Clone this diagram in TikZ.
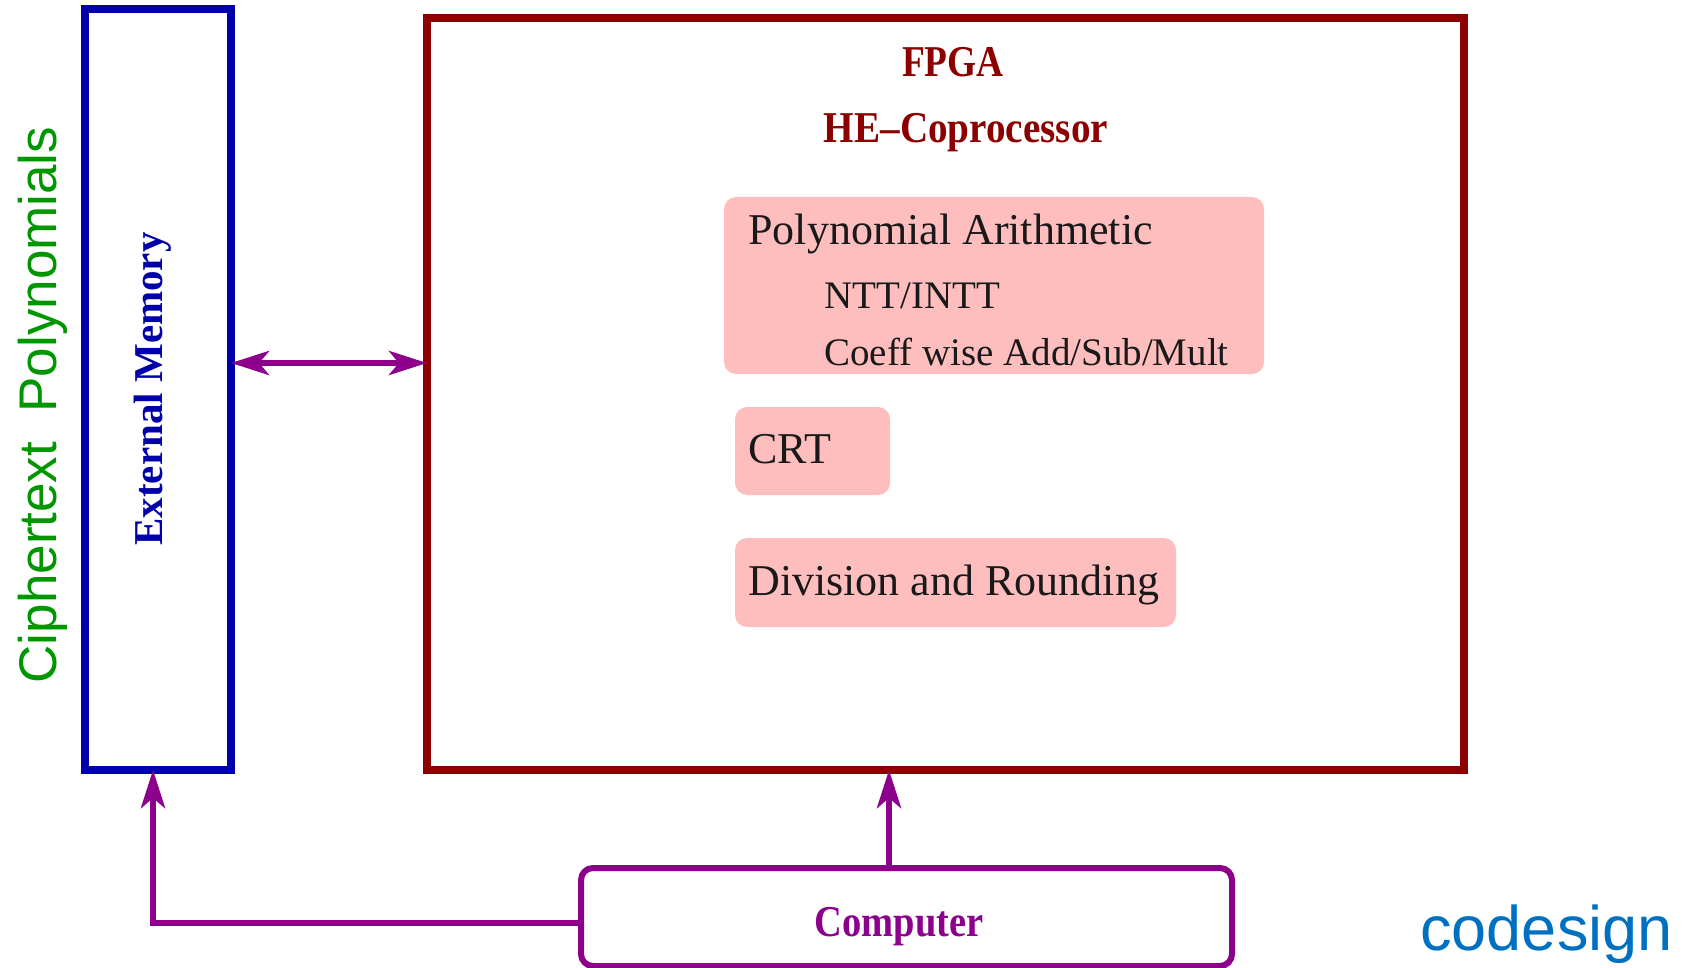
\documentclass[tikz,border=0pt]{standalone}
\usepackage{fontspec}
\usepackage{graphicx}
\setmainfont{Liberation Serif}
\newfontfamily\sansfam{Liberation Sans}
\usetikzlibrary{arrows.meta}

\definecolor{memblue}{RGB}{0,0,170}
\definecolor{fpgared}{RGB}{140,0,0}
\definecolor{linkpurple}{RGB}{140,0,140}
\definecolor{unitpink}{RGB}{255,190,190}
\definecolor{notegreen}{RGB}{0,150,0}
\definecolor{noteblue}{RGB}{0,112,192}

\begin{document}
\begin{tikzpicture}[x=0.5pt,y=-0.5pt,
  membox/.style={draw=memblue, line width=3.8pt, inner sep=0pt, outer sep=0pt,
    minimum width=73pt, minimum height=380.5pt},
  fpgabox/.style={draw=fpgared, line width=3.8pt, inner sep=0pt, outer sep=0pt,
    minimum width=518.5pt, minimum height=376pt},
  unitbox/.style={fill=unitpink, rounded corners=6pt, inner sep=0pt, outer sep=0pt},
  compbox/.style={draw=linkpurple, line width=3pt, rounded corners=6pt,
    inner sep=0pt, outer sep=0pt, minimum width=325.5pt, minimum height=49pt},
  headtext/.style={inner sep=0pt, text=fpgared, font=\fontsize{22pt}{26pt}\selectfont\bfseries},
  unittext/.style={inner sep=0pt, text=black!90, font=\fontsize{22pt}{26pt}\selectfont},
  subtext/.style={inner sep=0pt, text=black!90, font=\fontsize{19.5pt}{23pt}\selectfont},
  memtext/.style={inner sep=0pt, text=memblue, font=\fontsize{20.5pt}{24pt}\selectfont\bfseries},
  comptext/.style={inner sep=0pt, text=linkpurple, font=\fontsize{22pt}{26pt}\selectfont\bfseries},
  greennote/.style={inner sep=0pt, text=notegreen, font=\sansfam\fontsize{26.5pt}{30pt}\selectfont},
  bluenote/.style={inner sep=0pt, text=noteblue, font=\sansfam\fontsize{31.5pt}{36pt}\selectfont},
  link/.style={draw=linkpurple, line width=3pt}
]
\useasboundingbox (0,0) rectangle (1687,968);

% main blocks
\node[membox] (mem) at (158,389.5) {};
\node[fpgabox] (fpga) at (945.5,394) {};
\node[compbox] (comp) at (906.5,917) {};

% units inside the coprocessor
\node[unitbox, minimum width=270pt, minimum height=88.5pt] (poly) at (994,285.5) {};
\node[unitbox, minimum width=77.5pt, minimum height=44pt] (crt) at (812.5,451) {};
\node[unitbox, minimum width=220.5pt, minimum height=44.5pt] (divr) at (955.5,582.5) {};

% labels
\node[headtext, anchor=base] (fpgalbl) at (953,77) {\scalebox{0.85}[1]{FPGA}};
\node[headtext, anchor=base] (helbl) at (966,143) {\scalebox{0.89}[1]{HE–Coprocessor}};
\node[unittext, anchor=base west] (polylbl) at (748,245) {Polynomial Arithmetic};
\node[subtext, anchor=base west] (nttlbl) at (824,309) {NTT/INTT};
\node[subtext, anchor=base west] (coefflbl) at (824,365) {Coeff wise Add/Sub/Mult};
\node[unittext, anchor=base west] (crtlbl) at (748,463) {CRT};
\node[unittext, anchor=base west] (divlbl) at (748,595) {Division and Rounding};
\node[memtext, rotate=90, anchor=base] (memlbl) at (162,389) {External Memory};
\node[comptext, anchor=base] (complbl) at (899,936) {\scalebox{0.875}[1]{Computer}};
\node[greennote, rotate=90, anchor=base] (ctlbl) at (56,405) {Ciphertext\ \ Polynomials};
\node[bluenote, anchor=base west] (cdlbl) at (1420,950) {codesign};

% connectors
\coordinate (busy) at (0,363);
\coordinate (upx) at (889,0);
\coordinate (feedx) at (153,0);
\coordinate (feedy) at (0,923);
\draw[link, {Stealth[length=19pt, width=12pt, inset=5pt]}-{Stealth[length=19pt, width=12pt, inset=5pt]}]
  (mem.east |- busy) -- (fpga.west |- busy);
\draw[link, -{Stealth[length=19pt, width=12pt, inset=5pt]}]
  (comp.north -| upx) -- (fpga.south -| upx);
\draw[link, -{Stealth[length=19pt, width=12pt, inset=5pt]}]
  (comp.west |- feedy) -| (mem.south -| feedx);
\end{tikzpicture}
\end{document}
